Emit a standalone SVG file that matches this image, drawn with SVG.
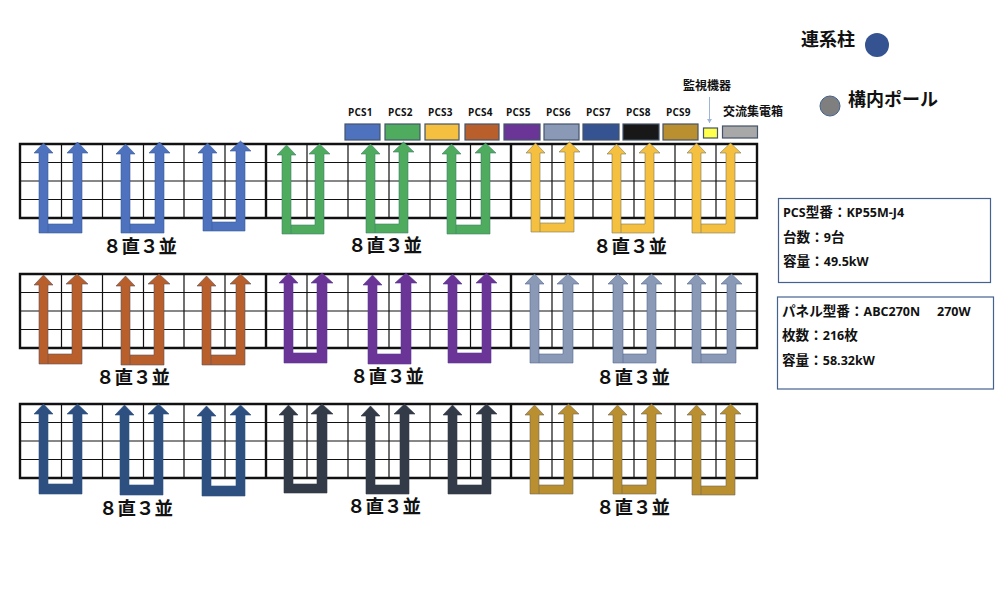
<svg xmlns="http://www.w3.org/2000/svg" width="1000" height="608" viewBox="0 0 1000 608">
<style>
text{font-family:"Noto Sans CJK JP","Noto Sans",sans-serif;font-weight:700;fill:#111}
.pcs{font-family:"Open Sans","Noto Sans CJK JP",sans-serif;font-size:10px;letter-spacing:.2px}
.cfg{font-size:18.500px;text-anchor:middle}
.big{font-size:18px}
.info{font-family:"Open Sans","Noto Sans CJK JP",sans-serif;font-size:13.600px}
.l{font-size:12.500px}
.g{fill:none;stroke:#111;stroke-width:1.2}
.gt{fill:none;stroke:#111;stroke-width:2.4}
.u{stroke-width:.8;stroke-opacity:.75}
.sw{stroke:#44546a;stroke-width:1.2}
.box{fill:#fff;stroke:#44628f;stroke-width:1.2}
.c1{fill:#4e72bd;stroke:#3b5a9a}.c2{fill:#4fac5f;stroke:#3f7f6a}.c3{fill:#f5bf3f;stroke:#7c7a60}.c4{fill:#b85f2b;stroke:#5f5560}.c5{fill:#6a3597;stroke:#5a3a90}.c6{fill:#8a99b5;stroke:#566a90}.c7{fill:#2d5080;stroke:#2d5080}.c8{fill:#333a48;stroke:#333a48}.c9{fill:#b98f30;stroke:#6f6a58}
</style>
<defs>
<g id="grid">
<path class="g" d="M20 18.500H757M20 37H757M20 55.500H757M61.500 0V74M102.500 0V74M143.500 0V74M184 0V74M225 0V74M307 0V74M348 0V74M389 0V74M430 0V74M470.500 0V74M552 0V74M593 0V74M634 0V74M675 0V74M716 0V74"/>
<path class="gt" d="M20 0H757V74H20ZM266 0V74M511 0V74"/>
</g>
<marker id="tip" markerWidth="5" markerHeight="5" refX="4" refY="2.500" orient="auto"><path d="M0 0L4 2.500L0 5Z" fill="#9db5d8"/></marker>
</defs>
<g id="grids">
<use href="#grid" y="144"/>
<use href="#grid" y="274"/>
<use href="#grid" y="404"/>
</g>
<g id="connectors">
<path class="u c1" d="M39 233V153H34L43.500 143L53 153H48V224H73V153H67L77.500 142L88 153H82V233ZM48 224V233"/>
<path class="u c1" d="M121 233V154H116L125.500 144L135 154H130V224H155V153H149L159.500 142L170 153H164V233ZM130 224V233"/>
<path class="u c1" d="M203 231V153H198L207.500 143L217 153H212V222H236V151H230L240.500 141L251 151H245V231ZM212 222V231"/>
<path class="u c2" d="M282 234V155H277L286.500 145L296 155H291V225H315V154H309L319.500 144L330 154H324V234ZM291 225V234"/>
<path class="u c2" d="M366 233V154H361L370.500 144L380 154H375V224H399V152H393L403.500 142L414 152H408V233ZM375 224V233"/>
<path class="u c2" d="M447 234V154H442L451.500 144L461 154H456V225H481V153H475L485.500 143L496 153H490V234ZM456 225V234"/>
<path class="u c3" d="M531 232V153H526L535.500 143L545 153H540V223H565V152H559L569.500 142L580 152H574V232ZM540 223V232"/>
<path class="u c3" d="M612 233V154H607L616.500 144L626 154H621V224H645V153H639L649.500 143L660 153H654V233ZM621 224V233"/>
<path class="u c3" d="M692 233V153H687L696.500 143L706 153H701V224H726V153H720L730.500 143L741 153H735V233ZM701 224V233"/>
<path class="u c4" d="M39 364V285H34L43.500 275L53 285H48V354H72V284H66L77 274L88 284H82V364ZM48 354V364"/>
<path class="u c4" d="M121 365V286H116L125.500 276L135 286H130V355H154V284H148L159 274L170 284H164V365ZM130 355V365"/>
<path class="u c4" d="M202 365V286H197L206.500 276L216 286H211V355H236V284H230L240.500 274L251 284H245V365ZM211 355V365"/>
<path class="u c5" d="M284 363V283H279L288.500 273L298 283H293V353H317V283H311L322 273L333 283H327V363Z"/>
<path class="u c5" d="M368 364V285H363L372.500 275L382 285H377V354H401V283H395L406 273L417 283H411V364Z"/>
<path class="u c5" d="M448 363V284H443L452.500 274L462 284H457V353H482V283H476L486.500 273L497 283H491V363Z"/>
<path class="u c6" d="M530 363V284H525L534.500 274L544 284H539V354H563V284H557L568 274L579 284H573V363ZM539 354V363"/>
<path class="u c6" d="M613 363V284H608L618 274L628 284H623V354H647V284H641L651.500 274L662 284H656V363ZM623 354V363"/>
<path class="u c6" d="M692 363V284H687L696.500 274L706 284H701V354H727V284H721L731.500 274L742 284H736V363ZM701 354V363"/>
<path class="u c7" d="M39 494V414H34L43.500 404L53 414H48V484H73V414H67L77.500 404L88 414H82V494Z"/>
<path class="u c7" d="M120 495V415H115L124.500 405L134 415H129V485H154V414H148L158.500 404L169 414H163V495Z"/>
<path class="u c7" d="M202 496V416H197L206.500 406L216 416H211V486H236V415H230L240.500 405L251 415H245V496Z"/>
<path class="u c8" d="M284 493V415H279L288.500 405L298 415H293V484H317V414H311L322 404L333 414H327V493Z"/>
<path class="u c8" d="M366 494V416H361L370.500 406L380 416H375V485H400V414H394L404.500 404L415 414H409V494Z"/>
<path class="u c8" d="M448 494V415H443L452.500 405L462 415H457V485H482V414H476L486.500 404L497 414H491V494Z"/>
<path class="u c9" d="M530 494V415H525L534.500 405L544 415H539V485H564V414H558L568.500 404L579 414H573V494ZM539 485V494"/>
<path class="u c9" d="M613 494V415H608L617.500 405L627 415H622V485H647V414H641L651.500 404L662 414H656V494ZM622 485V494"/>
<path class="u c9" d="M692 495V415H687L696.500 405L706 415H701V486H726V414H720L730.500 404L741 414H735V495ZM701 486V495"/>
<path fill="none" stroke="#9db5d8" stroke-width="1" marker-end="url(#tip)" d="M709.500 97V123"/>
</g>
<g id="config-labels">
<text class="cfg" x="140" y="253">８直３並</text>
<text class="cfg" x="385" y="252">８直３並</text>
<text class="cfg" x="630" y="253">８直３並</text>
<text class="cfg" x="133" y="384">８直３並</text>
<text class="cfg" x="387" y="383">８直３並</text>
<text class="cfg" x="633" y="384">８直３並</text>
<text class="cfg" x="136" y="515">８直３並</text>
<text class="cfg" x="384" y="513">８直３並</text>
<text class="cfg" x="633" y="514">８直３並</text>
</g>
<g id="legend-pcs1"><rect class="sw" x="345" y="124" width="35" height="16" fill="#4e72bd"/><text class="pcs" x="348" y="116">PCS1</text></g>
<g id="legend-pcs2"><rect class="sw" x="385" y="124" width="35" height="16" fill="#4fac5f"/><text class="pcs" x="388" y="116">PCS2</text></g>
<g id="legend-pcs3"><rect class="sw" x="425" y="124" width="34" height="16" fill="#f5bf3f"/><text class="pcs" x="428" y="116">PCS3</text></g>
<g id="legend-pcs4"><rect class="sw" x="465" y="124" width="34" height="16" fill="#b85f2b"/><text class="pcs" x="468" y="116">PCS4</text></g>
<g id="legend-pcs5"><rect class="sw" x="504" y="124" width="36" height="16" fill="#6a3597"/><text class="pcs" x="506" y="116">PCS5</text></g>
<g id="legend-pcs6"><rect class="sw" x="544" y="124" width="35" height="16" fill="#8a99b5"/><text class="pcs" x="546" y="116">PCS6</text></g>
<g id="legend-pcs7"><rect class="sw" x="583" y="124" width="36" height="16" fill="#355291"/><text class="pcs" x="586" y="116">PCS7</text></g>
<g id="legend-pcs8"><rect class="sw" x="623" y="124" width="36" height="16" fill="#181818"/><text class="pcs" x="626" y="116">PCS8</text></g>
<g id="legend-pcs9"><rect class="sw" x="663" y="124" width="35" height="16" fill="#b98f30"/><text class="pcs" x="666" y="116">PCS9</text></g>
<g id="legend-monitor"><rect class="sw" x="703.500" y="128" width="14" height="10" fill="#ffff4d"/><text x="683" y="90" font-size="12">監視機器</text></g>
<g id="legend-junction"><rect class="sw" x="722.500" y="126" width="35" height="12" fill="#a8a8a8"/><text x="723" y="116" font-size="12">交流集電箱</text></g>
<g id="grid-pole"><circle cx="877" cy="45" r="12" fill="#355291"/><text class="big" x="801" y="46">連系柱</text></g>
<g id="site-pole"><circle cx="830" cy="106" r="10" fill="#7f7f7f" stroke="#44628f" stroke-width="1"/><text class="big" x="848" y="106">構内ポール</text></g>
<g id="pcs-info"><rect class="box" x="778.500" y="198.500" width="212" height="84"/>
<text class="info" x="783" y="217"><tspan class="l">PCS</tspan>型番：<tspan class="l">KP55M-J4</tspan></text>
<text class="info" x="783" y="242">台数：<tspan class="l">9</tspan>台</text>
<text class="info" x="783" y="266">容量：<tspan class="l">49.5kW</tspan></text></g>
<g id="panel-info"><rect class="box" x="777.500" y="297" width="216" height="92"/>
<text class="info" x="782" y="316">パネル型番：<tspan class="l">ABC270N</tspan><tspan class="l" x="937">270W</tspan></text>
<text class="info" x="782" y="340">枚数：<tspan class="l">216</tspan>枚</text>
<text class="info" x="782" y="365">容量：<tspan class="l">58.32kW</tspan></text></g>
</svg>
